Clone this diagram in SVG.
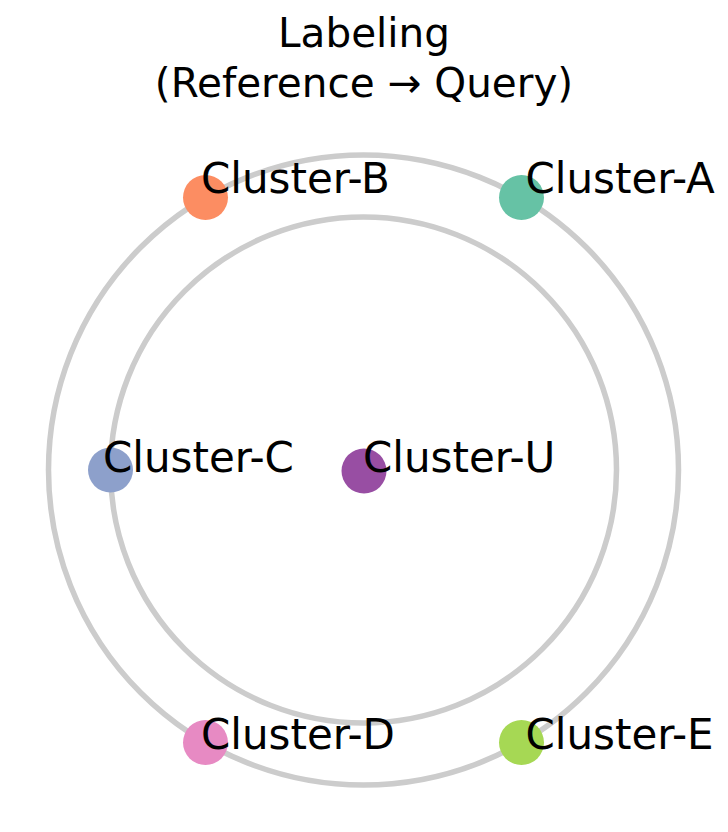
<svg xmlns="http://www.w3.org/2000/svg" width="728" height="832" viewBox="0 0 728 832">
<style>
  text { font-family: "DejaVu Sans", "Liberation Sans", sans-serif; fill: #000; }
  .title { font-size: 40.5px; text-anchor: middle; }
  .lbl { font-size: 42px; }
  .ring { fill: none; stroke: #cccccc; stroke-width: 5.5; }
</style>
<rect width="728" height="832" fill="#ffffff"/>
<g id="title">
  <text class="title" x="364" y="47">Labeling</text>
  <text class="title" x="364" y="97">(Reference → Query)</text>
</g>
<g id="connectors">
  <circle class="ring" cx="363.5" cy="470" r="315"/>
  <circle class="ring" cx="363.5" cy="470" r="253"/>
</g>
<g id="node-A">
  <circle cx="521.5" cy="197.5" r="22.5" fill="#66c2a5"/>
  <text class="lbl" x="525.5" y="193">Cluster-A</text>
</g>
<g id="node-B">
  <circle cx="205.5" cy="197.5" r="22.5" fill="#fc8d62"/>
  <text class="lbl" x="201" y="193">Cluster-B</text>
</g>
<g id="node-C">
  <circle cx="110.5" cy="470" r="22.5" fill="#8da0cb"/>
  <text class="lbl" x="103" y="471.5">Cluster-C</text>
</g>
<g id="node-U">
  <circle cx="364" cy="471" r="22.5" fill="#984ea3"/>
  <text class="lbl" x="363" y="472">Cluster-U</text>
</g>
<g id="node-D">
  <circle cx="205.5" cy="742.5" r="22.5" fill="#e78ac3"/>
  <text class="lbl" x="201" y="749">Cluster-D</text>
</g>
<g id="node-E">
  <circle cx="521.5" cy="742.5" r="22.5" fill="#a6d854"/>
  <text class="lbl" x="525.5" y="749">Cluster-E</text>
</g>
</svg>
